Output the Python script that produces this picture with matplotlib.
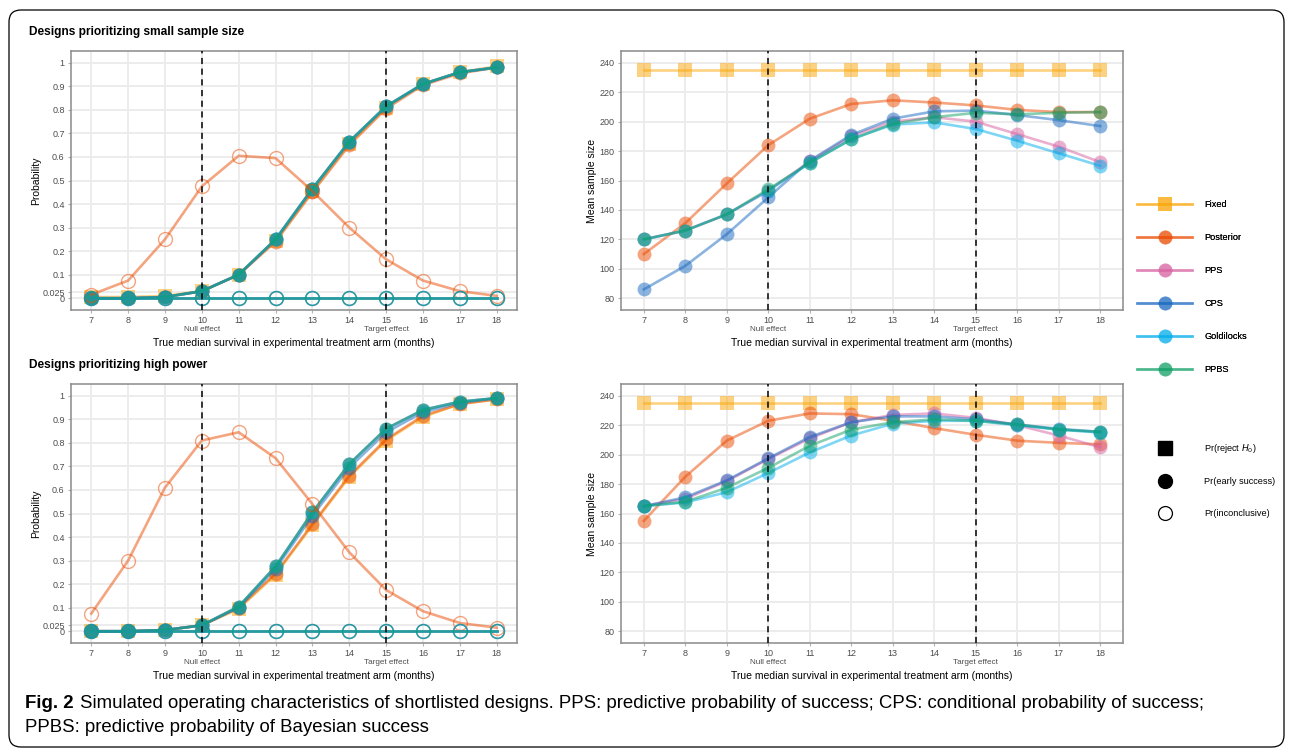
import matplotlib.pyplot as plt
from matplotlib.lines import Line2D
from matplotlib.patches import FancyBboxPatch

plt.rcParams['font.family'] = ['Liberation Sans', 'DejaVu Sans']

# x axis categories
months = [7, 8, 9, 10, 11, 12, 13, 14, 15, 16, 17, 18]
null_effect = 10
target_effect = 15

designs = ['Fixed', 'Posterior', 'PPS', 'CPS', 'Goldilocks', 'PPBS']
design_colors = ['#FBA505', '#EB4B00', '#D761A1', '#1868C0', '#00ADEB', '#10A066']

# --- designs prioritizing small sample size: probabilities ---
# Fixed design: Pr(reject H0); sequential designs: Pr(early success), Pr(inconclusive)
small_reject_fixed = [0.005, 0.005, 0.01, 0.03, 0.10, 0.245, 0.455, 0.655, 0.81, 0.91, 0.96, 0.985]
small_early_posterior = [0.0, 0.0, 0.005, 0.03, 0.10, 0.24, 0.45, 0.65, 0.805, 0.905, 0.955, 0.98]
small_early_adaptive = [0.0, 0.0, 0.005, 0.03, 0.10, 0.25, 0.465, 0.665, 0.815, 0.91, 0.96, 0.98]
small_inconc_posterior = [0.015, 0.075, 0.25, 0.475, 0.605, 0.595, 0.455, 0.30, 0.165, 0.075, 0.03, 0.01]
no_inconc = [0, 0, 0, 0, 0, 0, 0, 0, 0, 0, 0, 0]

# --- designs prioritizing high power: probabilities ---
power_reject_fixed = [0.0, 0.0, 0.005, 0.025, 0.095, 0.24, 0.45, 0.655, 0.81, 0.91, 0.965, 0.985]
power_early_posterior = [0.0, 0.0, 0.005, 0.025, 0.10, 0.245, 0.455, 0.66, 0.815, 0.915, 0.965, 0.985]
power_early_cps = [0.0, 0.0, 0.005, 0.025, 0.10, 0.265, 0.49, 0.695, 0.845, 0.93, 0.97, 0.99]
power_early_adaptive = [0.0, 0.0, 0.005, 0.025, 0.105, 0.275, 0.505, 0.71, 0.86, 0.94, 0.975, 0.99]
power_inconc_posterior = [0.075, 0.30, 0.61, 0.81, 0.845, 0.735, 0.54, 0.335, 0.175, 0.085, 0.035, 0.015]

# --- mean sample sizes, small sample size designs ---
small_n_fixed = [235] * 12
small_n_posterior = [110, 131, 158, 184, 202, 212, 214.5, 213, 211, 208, 206.5, 206.5]
small_n_pps = [120, 126, 137, 153, 173, 190, 200, 203, 200, 191.5, 183, 172.5]
small_n_cps = [86, 102, 123.5, 148.5, 173.5, 191, 202, 207, 207.5, 204.5, 201, 197]
small_n_goldilocks = [120, 126, 137, 153, 172, 188, 198, 199.5, 195, 187, 178.5, 170]
small_n_ppbs = [120, 126, 137, 154, 172, 188, 198.5, 203, 206, 205, 206, 206.5]

# --- mean sample sizes, high power designs ---
power_n_fixed = [235] * 12
power_n_posterior = [155, 185, 209.5, 223, 228, 227.5, 223, 218, 213.5, 209.5, 208, 207]
power_n_pps = [165, 170, 182, 197, 211, 222, 227, 228, 225, 220, 213, 205]
power_n_cps = [165, 171, 182.5, 197.5, 212, 222, 226, 226, 224, 220.5, 217.5, 215.5]
power_n_goldilocks = [165, 167.5, 174.5, 187.5, 201.5, 213, 221, 223, 223, 220, 217, 215]
power_n_ppbs = [165, 168, 177.5, 191, 206, 217, 222, 224, 223, 220.5, 217, 215.5]

prob_ticks = [0, 0.025, 0.1, 0.2, 0.3, 0.4, 0.5, 0.6, 0.7, 0.8, 0.9, 1]
prob_tick_labels = ['0', '0.025', '0.1', '0.2', '0.3', '0.4', '0.5', '0.6', '0.7', '0.8', '0.9', '1']
size_ticks = [80, 100, 120, 140, 160, 180, 200, 220, 240]

ALPHA = 0.5
LW = 1.9
MS = 10

W, H = 1292, 749
fig = plt.figure(figsize=(W / 100, H / 100), dpi=100)


def axes_px(left, top, right, bottom):
    return fig.add_axes([left / W, 1 - bottom / H, (right - left) / W, (bottom - top) / H])


def style_axes(ax, ylabel, ylabel_pad):
    ax.set_xlim(6.45, 18.55)
    ax.set_xticks(months)
    ax.set_xticklabels([str(m) for m in months])
    ax.grid(True, color='#EBEBEB', lw=1.3)
    ax.set_axisbelow(True)
    for sp in ax.spines.values():
        sp.set_color('#8A8A8A')
        sp.set_linewidth(1.1)
    ax.tick_params(length=2.5, width=0.8, color='#B3B3B3', labelsize=6.5,
                   labelcolor='#4D4D4D', pad=2)
    for xv in (null_effect, target_effect):
        ax.axvline(xv, color='black', lw=1.1, ls=(0, (4, 3)), zorder=5)
    ax.annotate('Null effect', xy=(null_effect, 0), xycoords=('data', 'axes fraction'),
                xytext=(0, -14), textcoords='offset points', ha='center', va='center',
                fontsize=5.9, color='#4D4D4D')
    ax.annotate('Target effect', xy=(target_effect, 0), xycoords=('data', 'axes fraction'),
                xytext=(0, -14), textcoords='offset points', ha='center', va='center',
                fontsize=5.9, color='#4D4D4D')
    ax.set_xlabel('True median survival in experimental treatment arm (months)',
                  fontsize=7.5, labelpad=9)
    ax.set_ylabel(ylabel, fontsize=7.5, labelpad=ylabel_pad)


def draw_prob(ax, reject_fixed, early, inconc):
    # Fixed design rejection squares first, then early-success discs, then open circles
    ax.plot(months, reject_fixed, color=design_colors[0], alpha=ALPHA, lw=LW,
            marker='s', ms=MS, mew=0)
    for i, c in enumerate(design_colors[1:]):
        ax.plot(months, early[i], color=c, alpha=ALPHA, lw=LW, marker='o', ms=MS, mew=0)
    for i, c in enumerate(design_colors[1:]):
        ax.plot(months, inconc[i], color=c, alpha=ALPHA, lw=LW, marker='o', ms=MS,
                mfc='none', mew=1.0)
    ax.set_ylim(-0.05, 1.05)
    ax.set_yticks(prob_ticks)
    ax.set_yticklabels(prob_tick_labels)
    style_axes(ax, 'Probability', 1)


def draw_size(ax, sizes):
    for i, c in enumerate(design_colors):
        mk = 's' if designs[i] == 'Fixed' else 'o'
        ax.plot(months, sizes[i], color=c, alpha=ALPHA, lw=LW, marker=mk, ms=MS, mew=0)
    ax.set_ylim(72, 248)
    ax.set_yticks(size_ticks)
    style_axes(ax, 'Mean sample size', 2)


ax_tl = axes_px(71, 51, 517, 310)
draw_prob(ax_tl, small_reject_fixed,
          [small_early_posterior, small_early_adaptive, small_early_adaptive,
           small_early_adaptive, small_early_adaptive],
          [small_inconc_posterior, no_inconc, no_inconc, no_inconc, no_inconc])

ax_tr = axes_px(621, 51, 1123, 310)
draw_size(ax_tr, [small_n_fixed, small_n_posterior, small_n_pps, small_n_cps,
                  small_n_goldilocks, small_n_ppbs])

ax_bl = axes_px(71, 384, 517, 643)
draw_prob(ax_bl, power_reject_fixed,
          [power_early_posterior, power_early_adaptive, power_early_cps,
           power_early_adaptive, power_early_adaptive],
          [power_inconc_posterior, no_inconc, no_inconc, no_inconc, no_inconc])

ax_br = axes_px(621, 384, 1123, 643)
draw_size(ax_br, [power_n_fixed, power_n_posterior, power_n_pps, power_n_cps,
                  power_n_goldilocks, power_n_ppbs])

# panel titles
fig.text(29 / W, 1 - 32 / H, 'Designs prioritizing small sample size', fontsize=8.6,
         fontweight='bold', va='center', ha='left')
fig.text(29 / W, 1 - 365 / H, 'Designs prioritizing high power', fontsize=8.6,
         fontweight='bold', va='center', ha='left')

# legends
design_handles = []
for name, c in zip(designs, design_colors):
    mk = 's' if name == 'Fixed' else 'o'
    design_handles.append(Line2D([], [], color=c, alpha=ALPHA, lw=LW, marker=mk, ms=MS, mew=0))
leg1 = fig.legend(design_handles, designs, loc='upper left',
                  bbox_to_anchor=(1137 / W, 1 - 200 / H), frameon=False, fontsize=6.6,
                  handlelength=6.0, handletextpad=1.35, labelspacing=2.62, borderpad=0,
                  borderaxespad=0, numpoints=1)

metric_handles = [
    Line2D([], [], ls='none', marker='s', ms=9.5, color='black'),
    Line2D([], [], ls='none', marker='o', ms=10, color='black'),
    Line2D([], [], ls='none', marker='o', ms=10, mfc='white', mec='black', mew=0.9),
]
metric_labels = ['Pr(reject $H_0$)', 'Pr(early success)', 'Pr(inconclusive)']
fig.legend(metric_handles, metric_labels, loc='upper left',
           bbox_to_anchor=(1137 / W, 1 - 442 / H), frameon=False, fontsize=6.6,
           handlelength=6.0, handletextpad=1.35, labelspacing=2.45, borderpad=0,
           borderaxespad=0, numpoints=1)
fig.add_artist(leg1)

# caption
fig.text(25 / W, 1 - 704 / H, 'Fig. 2', fontsize=13.4, fontweight='bold', va='center',
         ha='left')
fig.text(80 / W, 1 - 704 / H,
         'Simulated operating characteristics of shortlisted designs. PPS: predictive '
         'probability of success; CPS: conditional probability of success;',
         fontsize=13.4, va='center', ha='left')
fig.text(25 / W, 1 - 728 / H, 'PPBS: predictive probability of Bayesian success',
         fontsize=13.4, va='center', ha='left')

# rounded outer border
border = FancyBboxPatch((9, 2), 1275, 737, boxstyle='round,pad=0,rounding_size=12',
                        transform=None, fill=False, ec='black', lw=0.9)
fig.add_artist(border)

fig.savefig('out.png', dpi=100)
